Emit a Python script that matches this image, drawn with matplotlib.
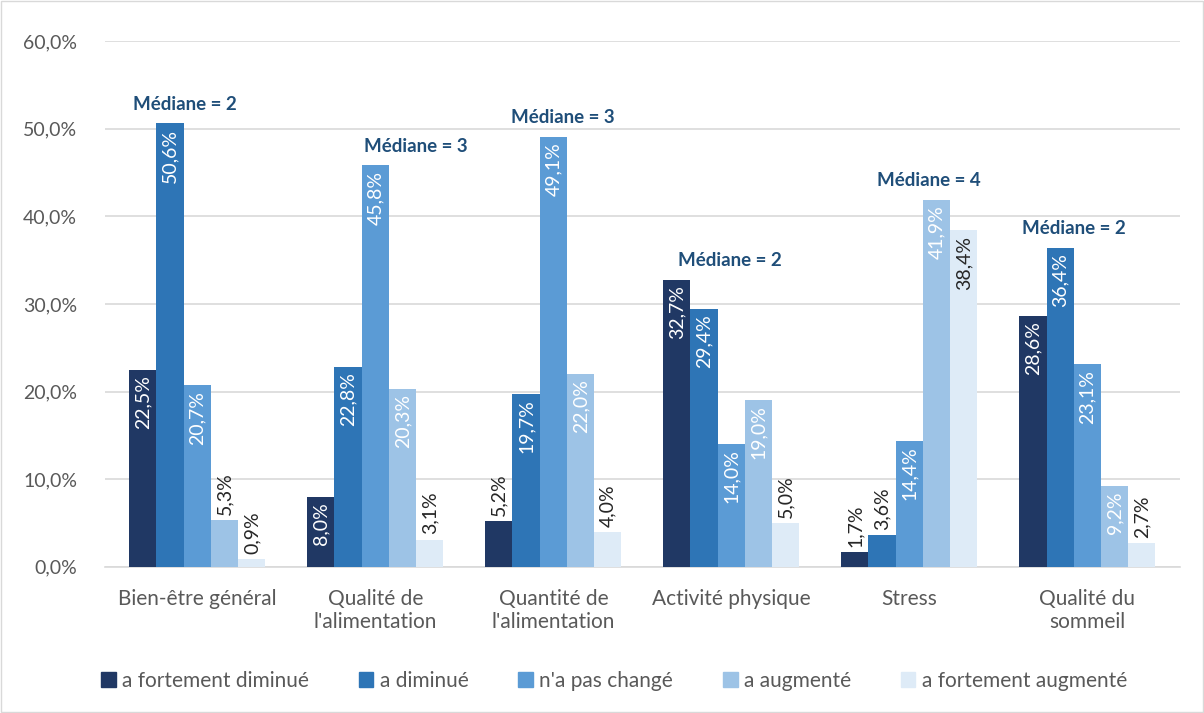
"""Évolution perçue - barres groupées avec médiane"""

import matplotlib
matplotlib.use('Agg')
import matplotlib.pyplot as plt
import numpy as np

categories = ['Bien-être général', "Qualité de\nl'alimentation", "Quantité de\nl'alimentation",
              'Activité physique', 'Stress', 'Qualité du\nsommeil']
series = ['a fortement diminué', 'a diminué', "n'a pas changé", 'a augmenté',
          'a fortement augmenté']
fortement_diminue = [22.5, 8.0, 5.2, 32.7, 1.7, 28.6]
diminue = [50.6, 22.8, 19.7, 29.4, 3.6, 36.4]
pas_change = [20.7, 45.8, 49.1, 14.0, 14.4, 23.1]
augmente = [5.3, 20.3, 22.0, 19.0, 41.9, 9.2]
fortement_augmente = [0.9, 3.1, 4.0, 5.0, 38.4, 2.7]
medianes = [2, 3, 3, 2, 4, 2]

values = [fortement_diminue, diminue, pas_change, augmente, fortement_augmente]
colors = ['#203864', '#2E75B6', '#5B9BD5', '#9DC3E6', '#DEEBF7']

# décalage horizontal des étiquettes "Médiane" (placées à la main dans l'original)
median_shift = [-0.07, 0.23, 0.056, -0.006, 0.11, -0.073]

plt.rcParams['font.family'] = ['Lato', 'DejaVu Sans']

fig = plt.figure(figsize=(12.04, 7.13), dpi=100)
ax = fig.add_axes([0.087, 0.205, 0.893, 0.7375])

x = np.arange(len(categories))
width = 0.153
for i, (vals, col) in enumerate(zip(values, colors)):
    pos = x + (i - 2) * width
    ax.bar(pos, vals, width, color=col, zorder=3)
    for p, v in zip(pos, vals):
        txt = f'{v:.1f}%'.replace('.', ',')
        if v >= 8.0:
            tc = '#262626' if i == 4 else 'white'
            ax.text(p, v - 0.6, txt, rotation=90, ha='center', va='top',
                    fontsize=14, color=tc, zorder=4)
        else:
            ax.text(p, v + 0.6, txt, rotation=90, ha='center', va='bottom',
                    fontsize=14, color='#262626', zorder=4)

# médianes au-dessus de chaque groupe
for xi, m, dx in zip(x, medianes, median_shift):
    top = max(v[xi] for v in values)
    ax.text(xi + dx, top + 2.2, f'Médiane = {m}', ha='center', va='center',
            fontsize=13.5, fontweight='bold', color='#1F4E79')

ax.set_ylim(0, 60)
ax.set_xlim(-0.52, 5.52)
ax.set_yticks(np.arange(0, 61, 10))
ax.set_yticklabels([f'{t:.1f}%'.replace('.', ',') for t in np.arange(0, 61, 10)])
ax.set_xticks(x)
ax.set_xticklabels(categories, fontsize=15)
ax.tick_params(axis='x', length=0, colors='#595959', pad=16)
ax.tick_params(axis='y', length=0, labelsize=14, colors='#595959', pad=20)
ax.grid(axis='y', color='#D9D9D9', linewidth=1.2, zorder=0)
for s in ['top', 'right', 'left']:
    ax.spines[s].set_visible(False)
ax.spines['bottom'].set_color('#D9D9D9')
ax.spines['bottom'].set_linewidth(1.2)

handles = [plt.Rectangle((0, 0), 1, 1, color=c) for c in colors]
fig.legend(handles, series, loc='center', bbox_to_anchor=(0.51, 0.045), ncol=5,
           frameon=False, fontsize=15, handlelength=0.7, handleheight=0.7,
           handletextpad=0.3, columnspacing=2.4, labelcolor='#595959')

fig.patches.append(plt.Rectangle((0.001, 0.001), 0.998, 0.998, transform=fig.transFigure,
                                 fill=False, edgecolor='#D9D9D9', linewidth=1))

fig.savefig('out.png', dpi=100)
